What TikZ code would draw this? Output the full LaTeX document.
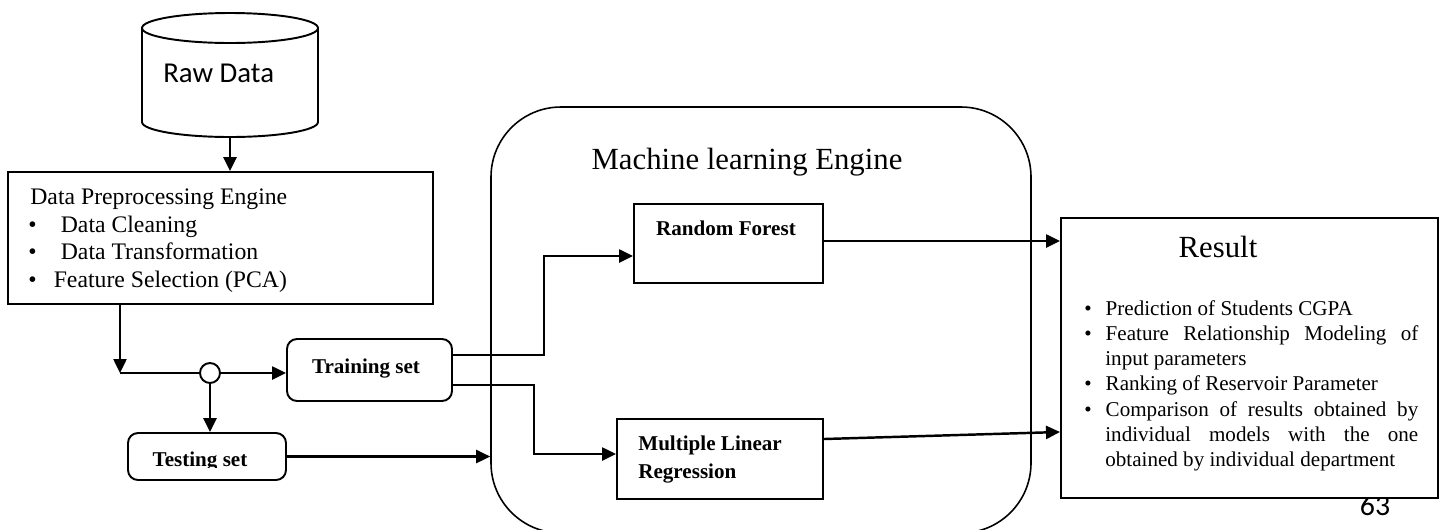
\documentclass[tikz,border=0pt]{standalone}
\usepackage{fontspec}
\setmainfont{Liberation Serif}
\newfontfamily\calibrifont{Carlito}
\usetikzlibrary{arrows.meta,fit,calc}
\begin{document}
\begin{tikzpicture}[x=0.02cm,y=-0.02cm,
  box/.style={draw, line width=1.1pt, inner sep=0pt},
  setbox/.style={box, rounded corners=0.2cm},
  engine/.style={draw, line width=0.9pt, inner sep=0pt, rounded corners=1.4cm},
  flow/.style={line width=1.4pt, -{Triangle[length=0.28cm,width=0.26cm]}},
  plain/.style={line width=1.4pt},
  junction/.style={circle, draw, fill=white, line width=1.1pt, minimum size=0.4cm, inner sep=0pt},
  txt/.style={inner sep=0pt, anchor=base west},
  ctxt/.style={inner sep=0pt, anchor=base},
  pptxt/.style={txt, font=\fontsize{13.5}{16}\selectfont},
  bold12/.style={font=\bfseries\fontsize{12}{15}\selectfont},
  big/.style={font=\fontsize{17.5}{21}\selectfont}
]
\useasboundingbox (0,0) rectangle (1440,529);
\clip (0,0) rectangle (1440,529);

% machine learning engine container
\node[engine, fit={(491,107) (1031,533)}] (ml) {};
\node[ctxt, big] (mltitle) at (747,169) {Machine learning Engine};

% raw data store
\draw[line width=1.1pt] (142,28) -- (142,122)
  arc[start angle=180, end angle=0, x radius=88, y radius=15] -- (318,28);
\draw[line width=1.1pt] (230,28) ellipse[x radius=88, y radius=15];
\node[txt, font=\calibrifont\fontsize{16.4}{20}\selectfont] (rawtxt) at (163,82) {Raw Data};
\coordinate (rawout) at (230,137);

% preprocessing engine
\node[box, fit={(8,172) (433,304)}] (pre) {};
\node[pptxt] (pre1) at (30,204) {Data Preprocessing Engine};
\node[pptxt] (pre2) at (28,232) {\makebox[18.5pt][l]{•}Data Cleaning};
\node[pptxt] (pre3) at (28,259) {\makebox[18.5pt][l]{•}Data Transformation};
\node[pptxt] (pre4) at (28,287) {\makebox[14.5pt][l]{•}Feature Selection (PCA)};

\draw[flow] (rawout) -- (rawout |- pre.north);

% split into training and testing sets
\coordinate (split) at (120,373);
\node[junction] (jn) at (210,373) {};
\node[setbox, fit={(287,339) (452,401)}] (train) {};
\node[ctxt, bold12] (traintxt) at (366,373) {Training set};
\node[setbox, fit={(128,433) (286,480)}] (test) {};
\begin{scope}
  \clip (128,433) rectangle (286,467);
  \node[ctxt, bold12] (testtxt) at (200,466) {Testing set};
\end{scope}

\draw[flow] (pre.south -| split) -- (split);
\draw[plain] (split) -- (jn.west);
\draw[flow] (jn.east) -- (jn.east -| train.west);
\draw[flow] (jn.south) -- (jn.south |- test.north);
\draw[flow] (test.east) -- (test.east -| ml.west);

% models
\node[box, fit={(634,204) (823,283)}] (rf) {};
\node[ctxt, bold12] (rftxt) at (726,235) {Random Forest};
\node[box, fit={(617,419) (823,499)}] (mlr) {};
\node[txt, bold12] (mlrtxt1) at (638,450) {Multiple Linear};
\node[txt, bold12] (mlrtxt2) at (638,478) {Regression};

\draw[flow] ([yshift=0.3cm]train.east) -- ++(91,0) |- ([yshift=-0.25cm]rf.west);
\draw[flow] ([yshift=-0.3cm]train.east) -- ++(81,0) |- ([yshift=0.1cm]mlr.west);

% page number
\node[ctxt, font=\calibrifont\fontsize{17}{20}\selectfont] (pgno) at (1375,515) {63};

% results
\node[box, fill=white, fit={(1061,218) (1438,498)}] (res) {};
\node[ctxt, big] (restitle) at (1218,257) {Result};
\node[inner sep=0pt, anchor=north west,
      font=\fontsize{12}{14.35}\selectfont] (reslist) at (1084,300) {%
  \begin{minipage}[t]{6.68cm}
  \begin{list}{\textbullet}{\leftmargin=0.42cm \rightmargin=0pt \labelsep=0.28cm \labelwidth=0.14cm
      \itemsep=0pt \parsep=0pt \topsep=0pt \partopsep=0pt}
  \item Prediction of Students CGPA
  \item Feature Relationship Modeling of\linebreak input parameters
  \item Ranking of Reservoir Parameter
  \item Comparison of results obtained by\linebreak individual models with the one\linebreak obtained by individual department
  \end{list}
  \end{minipage}};

\coordinate (rfout) at ([yshift=0.05cm]rf.east);
\draw[flow] (rfout) -- (rfout -| res.west);
\draw[flow] ([yshift=0.4cm]mlr.east) -- ([yshift=-1.48cm]res.west);
\end{tikzpicture}
\end{document}
